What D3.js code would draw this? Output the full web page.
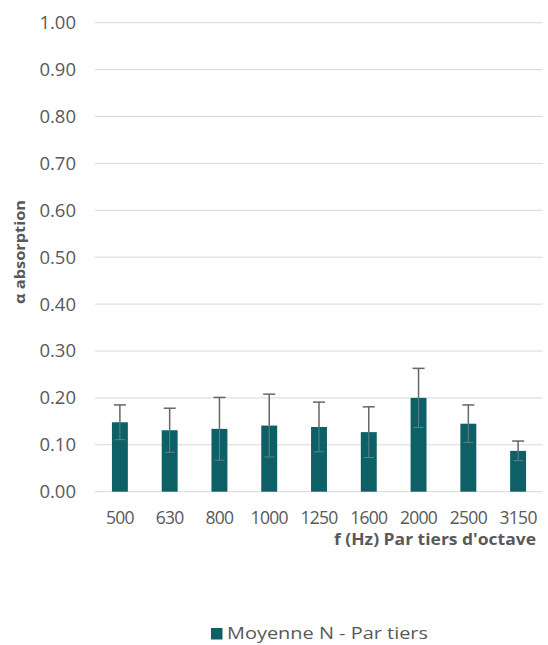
<!DOCTYPE html>
<html><head><meta charset="utf-8">
<script src="https://cdn.jsdelivr.net/npm/d3@7"></script>
<style>body{margin:0;background:#fff;} svg{display:block;}</style>
</head><body>
<svg id="c" width="548" height="645"></svg>
<script>
const categories = ["500","630","800","1000","1250","1600","2000","2500","3150"];
const values = [0.148,0.131,0.134,0.141,0.138,0.127,0.200,0.145,0.087];
const errors = [0.037,0.047,0.067,0.067,0.053,0.054,0.063,0.040,0.021];
const yTicks = [0,0.1,0.2,0.3,0.4,0.5,0.6,0.7,0.8,0.9,1.0];
const seriesName = "Moyenne N - Par tiers";
const xTitle = "f (Hz) Par tiers d'octave";
const yTitle = "α absorption";

const svg = d3.select("#c");
const m = {l:95, r:5, t:22.7, b:153.3};
const W = 548, H = 645;
const x = d3.scaleBand().domain(categories).range([m.l, W - m.r]).paddingInner(0.68).paddingOuter(0.34);
const y = d3.scaleLinear().domain([0,1]).range([H - m.b, m.t]);
const font = "'Open Sans', 'Noto Sans', sans-serif";
const grey = "#595959";
const teal = "#0d6066";

// gridlines
svg.append("g").selectAll("line").data(yTicks).join("line")
  .attr("x1", m.l).attr("x2", W - m.r - 0.3)
  .attr("y1", d => y(d)).attr("y2", d => y(d))
  .attr("stroke", "#d9d9d9").attr("stroke-width", 1);

// y axis labels
const yAxis = d3.axisLeft(y).tickValues(yTicks).tickFormat(d3.format(".2f")).tickSize(0).tickPadding(19);
const ya = svg.append("g").attr("transform", `translate(${m.l},0)`).call(yAxis);
ya.select(".domain").remove();
ya.selectAll("text").attr("font-family", font).attr("font-size", 18.5).attr("fill", grey);

// bars
svg.append("g").selectAll("rect").data(categories).join("rect")
  .attr("x", d => x(d)).attr("width", x.bandwidth())
  .attr("y", (d,i) => y(values[i])).attr("height", (d,i) => y(0) - y(values[i]))
  .attr("fill", teal);

// error bars
const eb = svg.append("g").attr("stroke", "#666").attr("stroke-width", 1.5);
categories.forEach((c,i) => {
  const cx = x(c) + x.bandwidth()/2;
  const hi = y(values[i] + errors[i]), lo = y(values[i] - errors[i]), top = y(values[i]);
  eb.append("line").attr("x1", cx).attr("x2", cx).attr("y1", hi).attr("y2", top);
  eb.append("line").attr("x1", cx).attr("x2", cx).attr("y1", top).attr("y2", lo).attr("stroke", "#5f8487").attr("stroke-width", 1);
  eb.append("line").attr("x1", cx-6).attr("x2", cx+6).attr("y1", hi).attr("y2", hi);
  eb.append("line").attr("x1", cx-5).attr("x2", cx+5).attr("y1", lo).attr("y2", lo).attr("stroke", "#5f8487").attr("stroke-width", 1);
});

// x axis labels
const xAxis = d3.axisBottom(x).tickSize(0).tickPadding(21);
const xa = svg.append("g").attr("transform", `translate(0,${y(0)})`).call(xAxis);
xa.select(".domain").remove();
xa.selectAll("text").attr("font-family", font).attr("font-size", 17.5).attr("fill", grey)
  .attr("letter-spacing", -0.7).attr("dy", "0.65em");

// axis titles
svg.append("text").attr("x", 536).attr("y", 545).attr("text-anchor", "end")
  .attr("font-family", font).attr("font-size", 15.5).attr("font-weight", "bold").attr("fill", grey)
  .attr("textLength", 202).attr("lengthAdjust", "spacingAndGlyphs").text(xTitle);
svg.append("text").attr("transform", "translate(25,252) rotate(-90)").attr("text-anchor", "middle")
  .attr("font-family", font).attr("font-size", 15).attr("font-weight", "bold").attr("fill", grey)
  .attr("textLength", 104).attr("lengthAdjust", "spacingAndGlyphs").text(yTitle);

// legend
svg.append("rect").attr("x", 211).attr("y", 628).attr("width", 11.5).attr("height", 11.5).attr("fill", teal);
svg.append("text").attr("x", 227).attr("y", 639).attr("font-family", font).attr("font-size", 16)
  .attr("fill", grey).attr("textLength", 201).attr("lengthAdjust", "spacingAndGlyphs").text(seriesName);
</script>
</body></html>
